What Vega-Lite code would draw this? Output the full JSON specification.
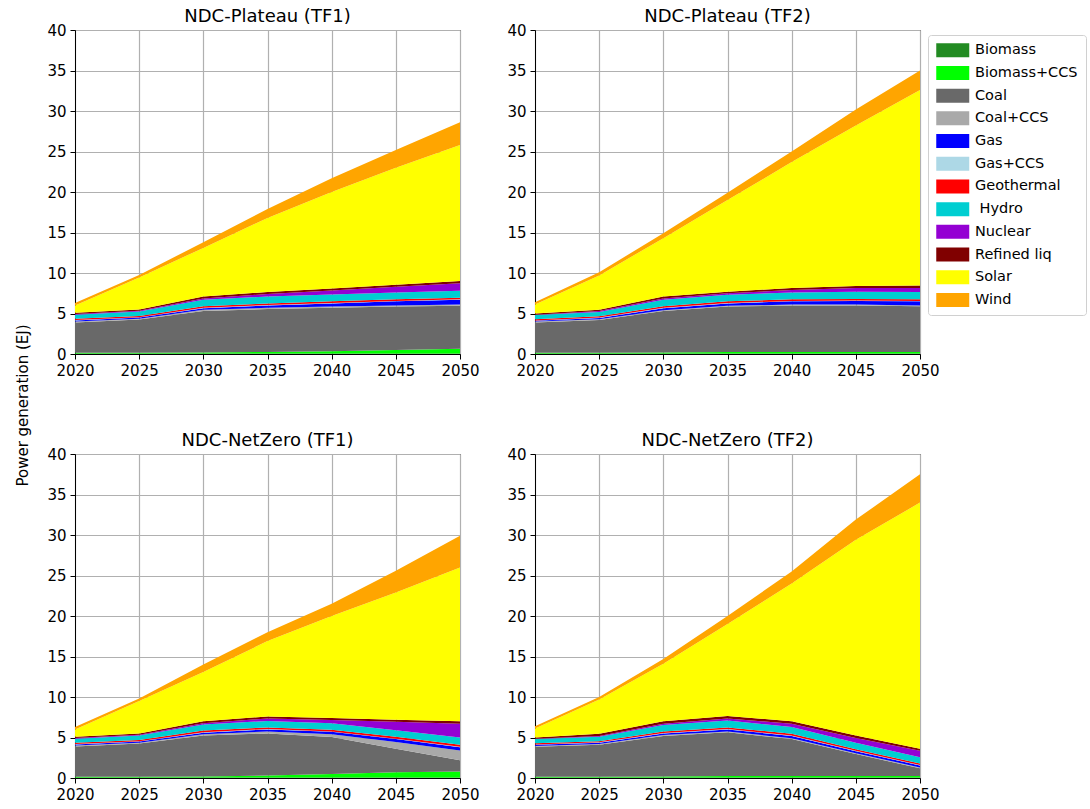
{
  "$schema": "https://vega.github.io/schema/vega-lite/v6.json",
  "background": "white",
  "padding": {"left": 14, "top": 7, "right": 2, "bottom": 2},
  "datasets": {
    "gen": [
      {"scenario": "NDC-Plateau (TF1)", "year": 2020, "Biomass": 0.05, "Biomass+CCS": 0.1, "Coal": 3.75, "Coal+CCS": 0.1, "Gas": 0.15, "Gas+CCS": 0.05, "Geothermal": 0.15, "Hydro": 0.5, "Nuclear": 0.1, "Refined liq": 0.15, "Solar": 0.9, "Wind": 0.3},
      {"scenario": "NDC-Plateau (TF1)", "year": 2025, "Biomass": 0.05, "Biomass+CCS": 0.1, "Coal": 4.1, "Coal+CCS": 0.1, "Gas": 0.15, "Gas+CCS": 0.05, "Geothermal": 0.15, "Hydro": 0.55, "Nuclear": 0.1, "Refined liq": 0.15, "Solar": 3.95, "Wind": 0.3},
      {"scenario": "NDC-Plateau (TF1)", "year": 2030, "Biomass": 0.05, "Biomass+CCS": 0.15, "Coal": 5.1, "Coal+CCS": 0.15, "Gas": 0.2, "Gas+CCS": 0.05, "Geothermal": 0.2, "Hydro": 0.8, "Nuclear": 0.15, "Refined liq": 0.25, "Solar": 6.0, "Wind": 0.7},
      {"scenario": "NDC-Plateau (TF1)", "year": 2035, "Biomass": 0.05, "Biomass+CCS": 0.2, "Coal": 5.3, "Coal+CCS": 0.15, "Gas": 0.3, "Gas+CCS": 0.05, "Geothermal": 0.2, "Hydro": 0.85, "Nuclear": 0.3, "Refined liq": 0.25, "Solar": 9.15, "Wind": 1.1},
      {"scenario": "NDC-Plateau (TF1)", "year": 2040, "Biomass": 0.05, "Biomass+CCS": 0.3, "Coal": 5.35, "Coal+CCS": 0.15, "Gas": 0.4, "Gas+CCS": 0.05, "Geothermal": 0.2, "Hydro": 0.85, "Nuclear": 0.5, "Refined liq": 0.25, "Solar": 11.9, "Wind": 1.7},
      {"scenario": "NDC-Plateau (TF1)", "year": 2045, "Biomass": 0.05, "Biomass+CCS": 0.45, "Coal": 5.35, "Coal+CCS": 0.15, "Gas": 0.5, "Gas+CCS": 0.05, "Geothermal": 0.2, "Hydro": 0.85, "Nuclear": 0.7, "Refined liq": 0.25, "Solar": 14.45, "Wind": 2.2},
      {"scenario": "NDC-Plateau (TF1)", "year": 2050, "Biomass": 0.05, "Biomass+CCS": 0.6, "Coal": 5.3, "Coal+CCS": 0.15, "Gas": 0.6, "Gas+CCS": 0.05, "Geothermal": 0.2, "Hydro": 0.85, "Nuclear": 0.95, "Refined liq": 0.25, "Solar": 16.8, "Wind": 2.8},
      {"scenario": "NDC-Plateau (TF2)", "year": 2020, "Biomass": 0.05, "Biomass+CCS": 0.1, "Coal": 3.75, "Coal+CCS": 0.1, "Gas": 0.1, "Gas+CCS": 0.05, "Geothermal": 0.15, "Hydro": 0.5, "Nuclear": 0.05, "Refined liq": 0.15, "Solar": 1.1, "Wind": 0.3},
      {"scenario": "NDC-Plateau (TF2)", "year": 2025, "Biomass": 0.05, "Biomass+CCS": 0.1, "Coal": 4.05, "Coal+CCS": 0.1, "Gas": 0.15, "Gas+CCS": 0.05, "Geothermal": 0.15, "Hydro": 0.55, "Nuclear": 0.1, "Refined liq": 0.15, "Solar": 4.25, "Wind": 0.4},
      {"scenario": "NDC-Plateau (TF2)", "year": 2030, "Biomass": 0.05, "Biomass+CCS": 0.15, "Coal": 5.1, "Coal+CCS": 0.1, "Gas": 0.25, "Gas+CCS": 0.05, "Geothermal": 0.2, "Hydro": 0.8, "Nuclear": 0.15, "Refined liq": 0.25, "Solar": 7.2, "Wind": 0.6},
      {"scenario": "NDC-Plateau (TF2)", "year": 2035, "Biomass": 0.05, "Biomass+CCS": 0.2, "Coal": 5.6, "Coal+CCS": 0.1, "Gas": 0.3, "Gas+CCS": 0.05, "Geothermal": 0.2, "Hydro": 0.8, "Nuclear": 0.2, "Refined liq": 0.2, "Solar": 11.3, "Wind": 0.9},
      {"scenario": "NDC-Plateau (TF2)", "year": 2040, "Biomass": 0.05, "Biomass+CCS": 0.2, "Coal": 5.75, "Coal+CCS": 0.1, "Gas": 0.4, "Gas+CCS": 0.05, "Geothermal": 0.2, "Hydro": 0.85, "Nuclear": 0.3, "Refined liq": 0.25, "Solar": 15.55, "Wind": 1.3},
      {"scenario": "NDC-Plateau (TF2)", "year": 2045, "Biomass": 0.05, "Biomass+CCS": 0.2, "Coal": 5.75, "Coal+CCS": 0.1, "Gas": 0.45, "Gas+CCS": 0.05, "Geothermal": 0.2, "Hydro": 0.9, "Nuclear": 0.45, "Refined liq": 0.25, "Solar": 19.8, "Wind": 2.0},
      {"scenario": "NDC-Plateau (TF2)", "year": 2050, "Biomass": 0.05, "Biomass+CCS": 0.2, "Coal": 5.65, "Coal+CCS": 0.1, "Gas": 0.5, "Gas+CCS": 0.05, "Geothermal": 0.2, "Hydro": 0.9, "Nuclear": 0.5, "Refined liq": 0.3, "Solar": 24.15, "Wind": 2.4},
      {"scenario": "NDC-NetZero (TF1)", "year": 2020, "Biomass": 0.05, "Biomass+CCS": 0.1, "Coal": 3.75, "Coal+CCS": 0.1, "Gas": 0.15, "Gas+CCS": 0.05, "Geothermal": 0.15, "Hydro": 0.5, "Nuclear": 0.1, "Refined liq": 0.15, "Solar": 0.9, "Wind": 0.3},
      {"scenario": "NDC-NetZero (TF1)", "year": 2025, "Biomass": 0.05, "Biomass+CCS": 0.1, "Coal": 4.1, "Coal+CCS": 0.1, "Gas": 0.15, "Gas+CCS": 0.05, "Geothermal": 0.15, "Hydro": 0.55, "Nuclear": 0.1, "Refined liq": 0.15, "Solar": 4.0, "Wind": 0.3},
      {"scenario": "NDC-NetZero (TF1)", "year": 2030, "Biomass": 0.05, "Biomass+CCS": 0.15, "Coal": 5.05, "Coal+CCS": 0.15, "Gas": 0.2, "Gas+CCS": 0.05, "Geothermal": 0.2, "Hydro": 0.75, "Nuclear": 0.15, "Refined liq": 0.25, "Solar": 6.1, "Wind": 0.9},
      {"scenario": "NDC-NetZero (TF1)", "year": 2035, "Biomass": 0.05, "Biomass+CCS": 0.25, "Coal": 5.2, "Coal+CCS": 0.25, "Gas": 0.25, "Gas+CCS": 0.05, "Geothermal": 0.2, "Hydro": 0.8, "Nuclear": 0.3, "Refined liq": 0.25, "Solar": 9.3, "Wind": 1.1},
      {"scenario": "NDC-NetZero (TF1)", "year": 2040, "Biomass": 0.05, "Biomass+CCS": 0.45, "Coal": 4.55, "Coal+CCS": 0.35, "Gas": 0.3, "Gas+CCS": 0.05, "Geothermal": 0.2, "Hydro": 0.8, "Nuclear": 0.4, "Refined liq": 0.25, "Solar": 12.6, "Wind": 1.5},
      {"scenario": "NDC-NetZero (TF1)", "year": 2045, "Biomass": 0.05, "Biomass+CCS": 0.65, "Coal": 2.9, "Coal+CCS": 0.85, "Gas": 0.35, "Gas+CCS": 0.05, "Geothermal": 0.25, "Hydro": 0.8, "Nuclear": 1.05, "Refined liq": 0.25, "Solar": 15.7, "Wind": 2.7},
      {"scenario": "NDC-NetZero (TF1)", "year": 2050, "Biomass": 0.05, "Biomass+CCS": 0.75, "Coal": 1.4, "Coal+CCS": 1.2, "Gas": 0.4, "Gas+CCS": 0.05, "Geothermal": 0.25, "Hydro": 0.9, "Nuclear": 1.7, "Refined liq": 0.3, "Solar": 19.0, "Wind": 3.9},
      {"scenario": "NDC-NetZero (TF2)", "year": 2020, "Biomass": 0.05, "Biomass+CCS": 0.1, "Coal": 3.7, "Coal+CCS": 0.1, "Gas": 0.15, "Gas+CCS": 0.05, "Geothermal": 0.15, "Hydro": 0.5, "Nuclear": 0.05, "Refined liq": 0.15, "Solar": 1.1, "Wind": 0.3},
      {"scenario": "NDC-NetZero (TF2)", "year": 2025, "Biomass": 0.05, "Biomass+CCS": 0.1, "Coal": 3.95, "Coal+CCS": 0.1, "Gas": 0.15, "Gas+CCS": 0.05, "Geothermal": 0.15, "Hydro": 0.55, "Nuclear": 0.1, "Refined liq": 0.25, "Solar": 4.25, "Wind": 0.3},
      {"scenario": "NDC-NetZero (TF2)", "year": 2030, "Biomass": 0.05, "Biomass+CCS": 0.15, "Coal": 5.0, "Coal+CCS": 0.1, "Gas": 0.2, "Gas+CCS": 0.05, "Geothermal": 0.2, "Hydro": 0.8, "Nuclear": 0.15, "Refined liq": 0.3, "Solar": 7.1, "Wind": 0.6},
      {"scenario": "NDC-NetZero (TF2)", "year": 2035, "Biomass": 0.05, "Biomass+CCS": 0.2, "Coal": 5.4, "Coal+CCS": 0.1, "Gas": 0.25, "Gas+CCS": 0.05, "Geothermal": 0.2, "Hydro": 0.85, "Nuclear": 0.25, "Refined liq": 0.3, "Solar": 11.35, "Wind": 1.0},
      {"scenario": "NDC-NetZero (TF2)", "year": 2040, "Biomass": 0.05, "Biomass+CCS": 0.2, "Coal": 4.55, "Coal+CCS": 0.1, "Gas": 0.3, "Gas+CCS": 0.05, "Geothermal": 0.2, "Hydro": 0.85, "Nuclear": 0.4, "Refined liq": 0.3, "Solar": 17.0, "Wind": 1.5},
      {"scenario": "NDC-NetZero (TF2)", "year": 2045, "Biomass": 0.05, "Biomass+CCS": 0.2, "Coal": 2.7, "Coal+CCS": 0.1, "Gas": 0.25, "Gas+CCS": 0.05, "Geothermal": 0.2, "Hydro": 0.8, "Nuclear": 0.6, "Refined liq": 0.3, "Solar": 24.15, "Wind": 2.5},
      {"scenario": "NDC-NetZero (TF2)", "year": 2050, "Biomass": 0.05, "Biomass+CCS": 0.2, "Coal": 0.95, "Coal+CCS": 0.1, "Gas": 0.25, "Gas+CCS": 0.05, "Geothermal": 0.2, "Hydro": 0.75, "Nuclear": 0.8, "Refined liq": 0.25, "Solar": 30.4, "Wind": 3.5}
    ]
  },
  "data": {"name": "gen"},
  "transform": [
    {"fold": ["Biomass", "Biomass+CCS", "Coal", "Coal+CCS", "Gas", "Gas+CCS", "Geothermal", "Hydro", "Nuclear", "Refined liq", "Solar", "Wind"], "as": ["source", "value"]}
  ],
  "columns": 2,
  "spacing": {"row": 100, "column": 75},
  "bounds": "flush",
  "concat": [
    {
      "title": "NDC-Plateau (TF1)",
      "width": 385, "height": 324,
      "transform": [{"filter": "datum.scenario === 'NDC-Plateau (TF1)'"}],
      "mark": {"type": "area", "interpolate": "linear"},
      "encoding": {
        "x": {"field": "year", "type": "quantitative", "scale": {"domain": [2020, 2050], "nice": false, "zero": false}, "axis": {"values": [2020, 2025, 2030, 2035, 2040, 2045, 2050], "format": "d", "title": null}},
        "y": {"field": "value", "type": "quantitative", "stack": "zero", "scale": {"domain": [0, 40], "nice": false}, "axis": {"values": [0, 5, 10, 15, 20, 25, 30, 35, 40], "title": "Power generation (EJ)", "titleX": -53, "titleY": 375, "titleBaseline": "middle", "titleAngle": -90, "titleAlign": "center"}},
        "color": {"field": "source", "type": "nominal", "scale": {"domain": ["Biomass", "Biomass+CCS", "Coal", "Coal+CCS", "Gas", "Gas+CCS", "Geothermal", "Hydro", "Nuclear", "Refined liq", "Solar", "Wind"], "range": ["#228B22", "#00FF00", "#696969", "#A9A9A9", "#0000FF", "#ADD8E6", "#FF0000", "#00CED1", "#9400D3", "#800000", "#FFFF00", "#FFA500"]},
          "legend": {"title": null, "orient": "none", "legendX": 853, "legendY": 5, "symbolType": "M-2.357,-1H2.357V1H-2.357Z", "symbolSize": 196, "symbolStrokeWidth": 0, "symbolOffset": 9.5, "labelOffset": 15, "labelFontSize": 14.5, "labelFont": "DejaVu Sans", "labelColor": "black", "rowPadding": 6.7, "padding": 8, "fillColor": "white", "strokeColor": "#d0d0d0", "cornerRadius": 3, "symbolOpacity": 1, "labelExpr": "datum.label === 'Hydro' ? '\u200b\u00a0Hydro' : datum.label"}},
        "order": {"field": "source", "sort": "ascending"}
      }
    },
    {
      "title": "NDC-Plateau (TF2)",
      "width": 385, "height": 324,
      "transform": [{"filter": "datum.scenario === 'NDC-Plateau (TF2)'"}],
      "mark": {"type": "area", "interpolate": "linear"},
      "encoding": {
        "x": {"field": "year", "type": "quantitative", "scale": {"domain": [2020, 2050], "nice": false, "zero": false}, "axis": {"values": [2020, 2025, 2030, 2035, 2040, 2045, 2050], "format": "d", "title": null}},
        "y": {"field": "value", "type": "quantitative", "stack": "zero", "scale": {"domain": [0, 40], "nice": false}, "axis": {"values": [0, 5, 10, 15, 20, 25, 30, 35, 40], "title": null}},
        "color": {"field": "source", "type": "nominal"},
        "order": {"field": "source", "sort": "ascending"}
      }
    },
    {
      "title": "NDC-NetZero (TF1)",
      "width": 385, "height": 324,
      "transform": [{"filter": "datum.scenario === 'NDC-NetZero (TF1)'"}],
      "mark": {"type": "area", "interpolate": "linear"},
      "encoding": {
        "x": {"field": "year", "type": "quantitative", "scale": {"domain": [2020, 2050], "nice": false, "zero": false}, "axis": {"values": [2020, 2025, 2030, 2035, 2040, 2045, 2050], "format": "d", "title": null}},
        "y": {"field": "value", "type": "quantitative", "stack": "zero", "scale": {"domain": [0, 40], "nice": false}, "axis": {"values": [0, 5, 10, 15, 20, 25, 30, 35, 40], "title": null}},
        "color": {"field": "source", "type": "nominal"},
        "order": {"field": "source", "sort": "ascending"}
      }
    },
    {
      "title": "NDC-NetZero (TF2)",
      "width": 385, "height": 324,
      "transform": [{"filter": "datum.scenario === 'NDC-NetZero (TF2)'"}],
      "mark": {"type": "area", "interpolate": "linear"},
      "encoding": {
        "x": {"field": "year", "type": "quantitative", "scale": {"domain": [2020, 2050], "nice": false, "zero": false}, "axis": {"values": [2020, 2025, 2030, 2035, 2040, 2045, 2050], "format": "d", "title": null}},
        "y": {"field": "value", "type": "quantitative", "stack": "zero", "scale": {"domain": [0, 40], "nice": false}, "axis": {"values": [0, 5, 10, 15, 20, 25, 30, 35, 40], "title": null}},
        "color": {"field": "source", "type": "nominal"},
        "order": {"field": "source", "sort": "ascending"}
      }
    }
  ],
  "config": {
    "font": "DejaVu Sans",
    "view": {"stroke": "black", "strokeWidth": 1},
    "title": {"fontSize": 18, "font": "DejaVu Sans", "fontWeight": "normal", "color": "black", "anchor": "middle", "frame": "group", "offset": -3, "baseline": "alphabetic"},
    "axis": {
      "zindex": 1,
      "grid": true, "gridColor": "#b0b0b0", "gridWidth": 1.2, "gridOpacity": 1,
      "domain": true, "domainColor": "black", "domainWidth": 1,
      "ticks": true, "tickColor": "black", "tickSize": 5, "tickWidth": 1,
      "labelFont": "DejaVu Sans", "labelFontSize": 15, "labelColor": "black", "labelPadding": 4,
      "labelFlush": false, "labelOverlap": false,
      "titleFont": "DejaVu Sans", "titleFontSize": 15, "titleFontWeight": "normal", "titleColor": "black"
    }
  }
}
